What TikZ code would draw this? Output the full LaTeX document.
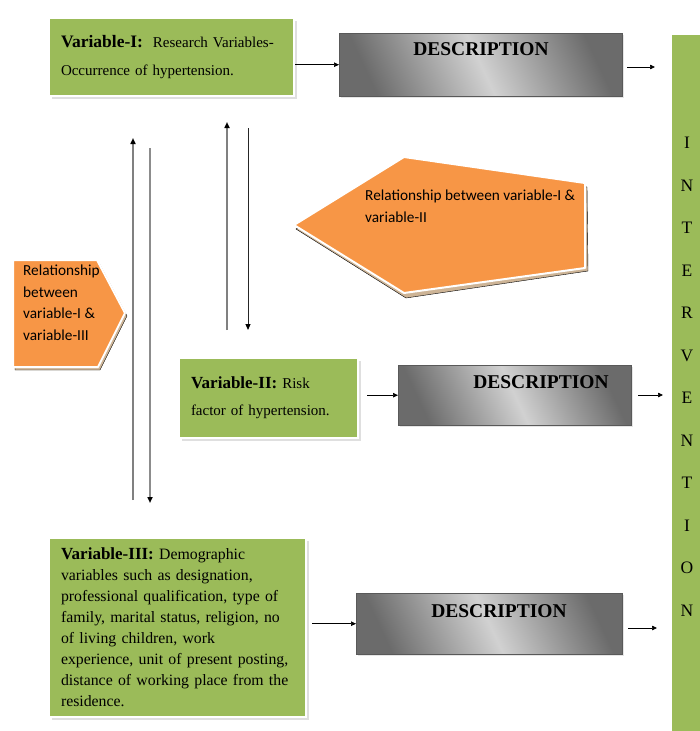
\documentclass[tikz,border=0pt]{standalone}
\usepackage{fontspec}
\setmainfont{Liberation Serif}
\newfontfamily\calibri{Carlito}
\usetikzlibrary{arrows.meta, positioning, shadows, calc}
\definecolor{vargreen}{RGB}{155,187,89}
\definecolor{relorange}{RGB}{247,150,70}
\definecolor{reltan}{RGB}{205,180,150}

\begin{document}
\begin{tikzpicture}[
    x=1pt, y=-1pt,
    varbox/.style={rectangle, fill=vargreen, draw=white, line width=2pt, anchor=north west,
        drop shadow={shadow xshift=3pt, shadow yshift=-3pt, fill=black!25},
        align=left, inner xsep=12pt, inner ysep=0pt},
    descbox/.style={rectangle, draw=black!65, thin, anchor=north west,
        left color=black!58, right color=black!58, middle color=black!18, shading angle=115,
        drop shadow={shadow xshift=2pt, shadow yshift=-2pt, fill=black!20}},
    desctext/.style={font=\fontsize{19.5}{22}\selectfont\bfseries, anchor=north, inner sep=0pt},
    reltext/.style={font=\calibri\fontsize{15.3}{21.5}\selectfont, align=left, anchor=north west, inner sep=0pt},
    relshape/.style={fill=relorange, draw=white, line width=2pt, line join=round},
    relshadow/.style={fill=reltan},
    link/.style={-{Triangle[length=5pt,width=4.5pt]}, black, line width=0.7pt},
    uplink/.style={-{Triangle[length=6pt,width=5pt,color=black]}, black!50, line width=1.6pt},
    downlink/.style={-{Triangle[length=6pt,width=5pt,color=black]}, black!85, line width=1pt}
]
\useasboundingbox (0,0) rectangle (699,731);

% Variables
\node[varbox, text width=221pt, minimum height=78pt, font=\fontsize{15}{28}\selectfont] (v1) at (48,17)
    {{\fontsize{17.5}{28}\selectfont\bfseries Variable-I:}\ \ Research Variables-\\Occurrence of hypertension.};
\node[varbox, text width=155pt, minimum height=80pt, font=\fontsize{15}{27}\selectfont] (v2) at (178,357)
    {{\fontsize{17}{27}\selectfont\bfseries Variable-II:}\ Risk\\factor of hypertension.};
\node[varbox, text width=233pt, minimum height=179pt, font=\fontsize{15.8}{21}\selectfont] (v3) at (48,537)
    {{\fontsize{17}{21}\selectfont\bfseries Variable-III:}\ Demographic\\variables such as designation,\\professional qualification, type of\\family, marital status, religion, no\\of living children, work\\experience, unit of present posting,\\distance of working place from the\\residence.};

% Description boxes
\node[descbox, minimum width=283pt, minimum height=63pt] (d1) at (339,33) {};
\node[desctext] (d1t) at (481,42) {DESCRIPTION};
\node[descbox, minimum width=233pt, minimum height=60pt] (d2) at (398,365) {};
\node[desctext] (d2t) at (541,375) {DESCRIPTION};
\node[descbox, minimum width=266pt, minimum height=61pt] (d3) at (356,593) {};
\node[desctext] (d3t) at (499,604) {DESCRIPTION};

% Intervention
\node[rectangle, fill=vargreen, draw=white, line width=1.5pt, anchor=north west,
    minimum width=40pt, minimum height=710pt] (intv) at (670,33) {};
\node[font=\fontsize{17.5}{42.5}\selectfont, align=center, inner sep=0pt] (intvt) at (687,377)
    {I\\N\\T\\E\\R\\V\\E\\N\\T\\I\\O\\N};

% Relationship shapes
\draw[relshadow] (296,229) -- (406,161) -- (587,187) -- (588,271) -- (406,298) -- cycle;
\draw[relshape] (294,225) -- (404,157) -- (585,183) -- (585,268) -- (404,293) -- cycle;
\node[reltext] (r12) at (365,190) {Relationship between variable-I \&\\variable-II};

\draw[relshadow] (15,263) -- (99,263) -- (127,316) -- (100,370) -- (15,370) -- cycle;
\draw[relshape] (13,260) -- (97,260) -- (125,313) -- (98,367) -- (13,367) -- cycle;
\node[reltext] (r13) at (23,265) {Relationship\\between\\variable-I \&\\variable-III};

% Connectors
\draw[link] (v1.east |- d1) -- (d1.west);
\draw[link, shorten <=8pt] (v2.east |- d2) -- (d2.west);
\draw[link, shorten <=5pt] (v3.east |- d3) -- (d3.west);

\coordinate (o1) at (655,67);
\coordinate (o2) at (663,395);
\coordinate (o3) at (657,628);
\draw[link, shorten <=5pt] (d1.east |- o1) -- (o1);
\draw[link, shorten <=7pt] (d2.east |- o2) -- (o2);
\draw[link, shorten <=6pt] (d3.east |- o3) -- (o3);

% Vertical links
\coordinate (a1) at (133,500);
\coordinate (a2) at (133,138);
\coordinate (b1) at (150,148);
\coordinate (b2) at (150,503);
\coordinate (a3) at (227,330);
\coordinate (a4) at (227,122);
\coordinate (b3) at (248,128);
\coordinate (b4) at (248,330);
\draw[uplink] (a1) -- (a2);
\draw[uplink, black!45] (b1) -- (b2);
\draw[uplink] (a3) -- (a4);
\draw[downlink] (b3) -- (b4);
\end{tikzpicture}
\end{document}
